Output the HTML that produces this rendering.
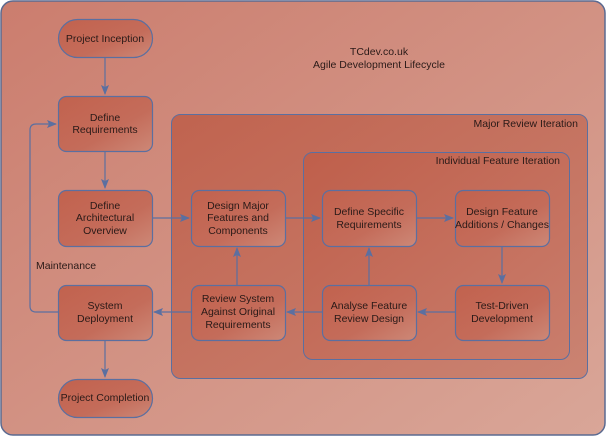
<!DOCTYPE html>
<html><head><meta charset="utf-8"><style>
html,body{margin:0;padding:0;background:#fff;}
svg{display:block;}
text{font-family:"Liberation Sans",sans-serif;font-size:10.5px;fill:#2a1a18;}
</style></head><body>
<svg width="607" height="437" viewBox="0 0 607 437" xmlns="http://www.w3.org/2000/svg">
<defs>
<linearGradient id="bg" x1="0" y1="0" x2="1" y2="1">
<stop offset="0" stop-color="#cb7d6e"/><stop offset="1" stop-color="#d9a698"/>
</linearGradient>
<linearGradient id="maj" x1="0" y1="0" x2="1" y2="1">
<stop offset="0" stop-color="#c0634f"/><stop offset="1" stop-color="#ca8372"/>
</linearGradient>
<linearGradient id="inn" x1="0" y1="0" x2="1" y2="1">
<stop offset="0" stop-color="#bf5f4b"/><stop offset="1" stop-color="#c97d6c"/>
</linearGradient>
<linearGradient id="nd" x1="0" y1="0" x2="1" y2="1">
<stop offset="0" stop-color="#c2624e"/><stop offset="0.6" stop-color="#c46c5a"/><stop offset="1" stop-color="#cd8877"/>
</linearGradient>
<marker id="ar" markerWidth="10" markerHeight="8" refX="9" refY="4" orient="auto" markerUnits="userSpaceOnUse">
<path d="M0,0 L10,4 L0,8 L2,4 Z" fill="#5b6fa0"/>
</marker>
</defs>
<rect x="1" y="1" width="604" height="434" rx="12" fill="url(#bg)" stroke="#5b6a90" stroke-width="1.5"/>
<rect x="171.5" y="114.5" width="416" height="264" rx="9" fill="url(#maj)" stroke="#5b6fa0"/>
<rect x="303.5" y="152.5" width="266" height="207" rx="9" fill="url(#inn)" stroke="#5b6fa0"/>
<text x="578" y="127" text-anchor="end">Major Review Iteration</text>
<text x="560" y="164" text-anchor="end">Individual Feature Iteration</text>
<text x="379" y="55" text-anchor="middle" font-size="11">TCdev.co.uk</text>
<text x="379" y="68" text-anchor="middle" font-size="11">Agile Development Lifecycle</text>
<text x="36" y="269">Maintenance</text>

<g stroke="#5b6fa0" stroke-width="1.2" fill="none">
<line x1="105" y1="58" x2="105" y2="94" marker-end="url(#ar)"/>
<line x1="105" y1="152" x2="105" y2="188" marker-end="url(#ar)"/>
<line x1="105" y1="341" x2="105" y2="377" marker-end="url(#ar)"/>
<path d="M58,312 H36 Q30,312 30,306 V130 Q30,124 36,124 H56" marker-end="url(#ar)"/>
<line x1="152" y1="218" x2="189" y2="218" marker-end="url(#ar)"/>
<line x1="285" y1="218" x2="320" y2="218" marker-end="url(#ar)"/>
<line x1="416" y1="218" x2="453" y2="218" marker-end="url(#ar)"/>
<line x1="502" y1="246" x2="502" y2="283" marker-end="url(#ar)"/>
<line x1="455" y1="312" x2="418" y2="312" marker-end="url(#ar)"/>
<line x1="369" y1="285" x2="369" y2="248" marker-end="url(#ar)"/>
<line x1="322" y1="312" x2="287" y2="312" marker-end="url(#ar)"/>
<line x1="191" y1="312" x2="154" y2="312" marker-end="url(#ar)"/>
<line x1="237" y1="285" x2="237" y2="248" marker-end="url(#ar)"/>
</g>

<g stroke="#5b6fa0" stroke-width="1.2" fill="url(#nd)">
<rect x="58.5" y="19.5" width="94" height="38" rx="19"/>
<rect x="58.5" y="96.5" width="94" height="55" rx="8"/>
<rect x="58.5" y="190.5" width="94" height="56" rx="8"/>
<rect x="58.5" y="285.5" width="94" height="55" rx="8"/>
<rect x="58.5" y="379.5" width="94" height="38" rx="19"/>
<rect x="191.5" y="190.5" width="94" height="56" rx="8"/>
<rect x="191.5" y="285.5" width="94" height="55" rx="8"/>
<rect x="322.5" y="190.5" width="94" height="56" rx="8"/>
<rect x="455.5" y="190.5" width="94" height="56" rx="8"/>
<rect x="322.5" y="285.5" width="94" height="55" rx="8"/>
<rect x="455.5" y="285.5" width="94" height="55" rx="8"/>
</g>

<g text-anchor="middle">
<text x="105" y="42">Project Inception</text>
<text x="105" y="121">Define</text><text x="105" y="133">Requirements</text>
<text x="105" y="209">Define</text><text x="105" y="221">Architectural</text><text x="105" y="234">Overview</text>
<text x="105" y="309">System</text><text x="105" y="322">Deployment</text>
<text x="105" y="401">Project Completion</text>
<text x="238" y="209">Design Major</text><text x="238" y="221">Features and</text><text x="238" y="234">Components</text>
<text x="238" y="302">Review System</text><text x="238" y="315">Against Original</text><text x="238" y="328">Requirements</text>
<text x="369" y="215">Define Specific</text><text x="369" y="228">Requirements</text>
<text x="502" y="215">Design Feature</text><text x="502" y="228">Additions / Changes</text>
<text x="369" y="309">Analyse Feature</text><text x="369" y="322">Review Design</text>
<text x="502" y="309">Test-Driven</text><text x="502" y="322">Development</text>
</g>
</svg>
</body></html>
